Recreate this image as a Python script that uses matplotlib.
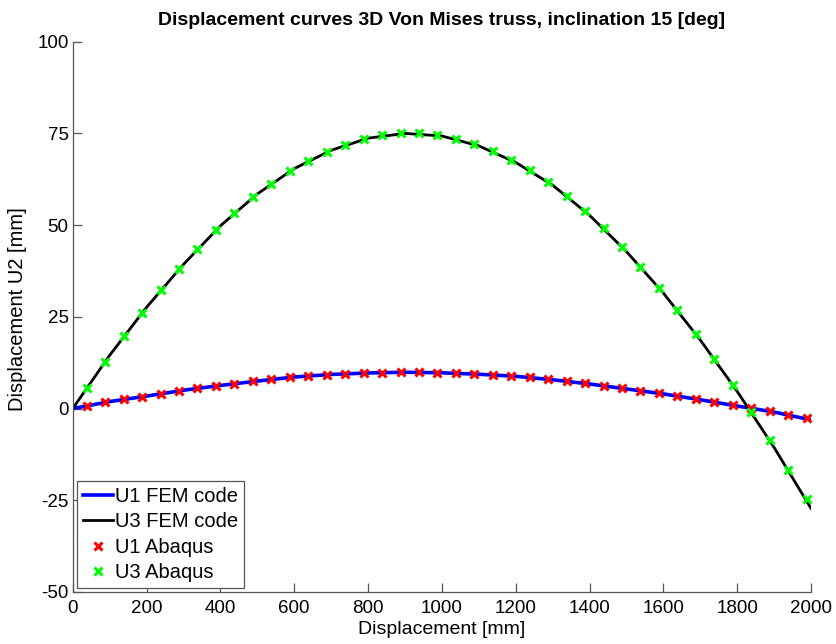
import numpy as np
import matplotlib
matplotlib.use("Agg")
import matplotlib.pyplot as plt

# FEM code output (horizontal displacement vs U1 / U3) [mm]
fem_x = [0, 100, 200, 300, 400, 500, 600, 700, 800, 900, 1000,
         1100, 1200, 1300, 1400, 1500, 1600, 1700, 1800, 1900, 2000]
fem_u1 = [0.0, 1.9, 3.4, 5.0, 6.3, 7.5, 8.6, 9.3, 9.7, 9.9, 9.75,
          9.35, 8.8, 7.85, 6.7, 5.35, 4.0, 2.4, 0.7, -0.95, -3.1]
fem_u3 = [0.0, 14.5, 27.6, 39.3, 49.8, 58.5, 65.4, 70.4, 73.7, 75.0, 74.3,
          71.6, 67.1, 60.9, 52.7, 42.8, 31.5, 18.7, 4.7, -10.6, -27.2]

# Abaqus reference results [mm]
abq_x = [38, 88, 138, 188, 238, 288, 338, 388, 438, 488,
         538, 588, 638, 688, 738, 788, 838, 888, 938, 988,
         1038, 1088, 1138, 1188, 1238, 1288, 1338, 1388, 1438, 1488,
         1538, 1588, 1638, 1688, 1738, 1788, 1838, 1888, 1938, 1988]
abq_u1 = [0.8, 1.7, 2.5, 3.2, 4.0, 4.8, 5.5, 6.2, 6.8, 7.4,
          8.0, 8.5, 8.9, 9.2, 9.5, 9.7, 9.8, 9.9, 9.9, 9.8,
          9.6, 9.4, 9.2, 8.9, 8.5, 8.0, 7.4, 6.9, 6.2, 5.5,
          4.9, 4.2, 3.4, 2.6, 1.7, 0.9, 0.1, -0.7, -1.7, -2.6]
abq_u3 = [5.7, 12.8, 19.8, 26.1, 32.3, 38.0, 43.6, 48.7, 53.2, 57.6,
          61.2, 64.7, 67.5, 69.9, 71.9, 73.4, 74.5, 75.0, 75.0, 74.5,
          73.5, 72.0, 70.2, 67.8, 65.0, 61.8, 57.9, 53.8, 49.1, 44.1,
          38.7, 33.0, 26.9, 20.4, 13.5, 6.4, -0.8, -8.7, -16.7, -24.7]

x_ticks = [0, 200, 400, 600, 800, 1000, 1200, 1400, 1600, 1800, 2000]
y_ticks = [-50, -25, 0, 25, 50, 75, 100]

plt.rcParams['font.family'] = ['Liberation Sans', 'DejaVu Sans']
plt.rcParams['axes.unicode_minus'] = False

W, H = 837, 644
fig = plt.figure(figsize=(W / 100, H / 100), dpi=100)
left, right, top, bottom = 72.7, 811, 41.7, 592
ax = fig.add_axes([left / W, 1 - bottom / H, (right - left) / W, (bottom - top) / H])

ax.plot(fem_x, fem_u1, color='#0000ff', linewidth=2.6, label='U1 FEM code')
ax.plot(fem_x, fem_u3, color='black', linewidth=2.0, label='U3 FEM code')
ax.plot(abq_x, abq_u1, linestyle='none', marker='x', color='red',
        markersize=6, markeredgewidth=2.2, label='U1 Abaqus')
ax.plot(abq_x, abq_u3, linestyle='none', marker='x', color='#00ff00',
        markersize=6, markeredgewidth=2.2, label='U3 Abaqus')

ax.set_xlim(0, 2000)
ax.set_ylim(-50, 100)
ax.set_xticks(x_ticks)
ax.set_yticks(y_ticks)

axis_grey = '#555555'
for side in ['top', 'right']:
    ax.spines[side].set_visible(False)
for side in ['left', 'bottom']:
    ax.spines[side].set_color(axis_grey)
    ax.spines[side].set_linewidth(0.9)
ax.tick_params(direction='in', length=6.5, width=0.9, color=axis_grey,
               labelsize=13.5, labelcolor='black')
ax.tick_params(axis='x', pad=5.5)
ax.tick_params(axis='y', pad=3)

ax.set_xlabel('Displacement [mm]', fontsize=14, labelpad=3.5)
ax.set_ylabel('Displacement U2 [mm]', fontsize=14.5)
ax.yaxis.set_label_coords(-0.062, 0.514)
ax.set_title('Displacement curves 3D Von Mises truss, inclination 15 [deg]',
             fontsize=14, fontweight='bold', pad=12)

leg = ax.legend(loc='lower left', bbox_to_anchor=(0.0062, 0.0073), borderaxespad=0,
                fontsize=14.5, handlelength=1.5, handletextpad=0.1,
                labelspacing=0.32, borderpad=0.28, fancybox=False,
                framealpha=1, edgecolor=axis_grey)
leg.get_frame().set_linewidth(0.9)

fig.savefig('out.png', dpi=100)
